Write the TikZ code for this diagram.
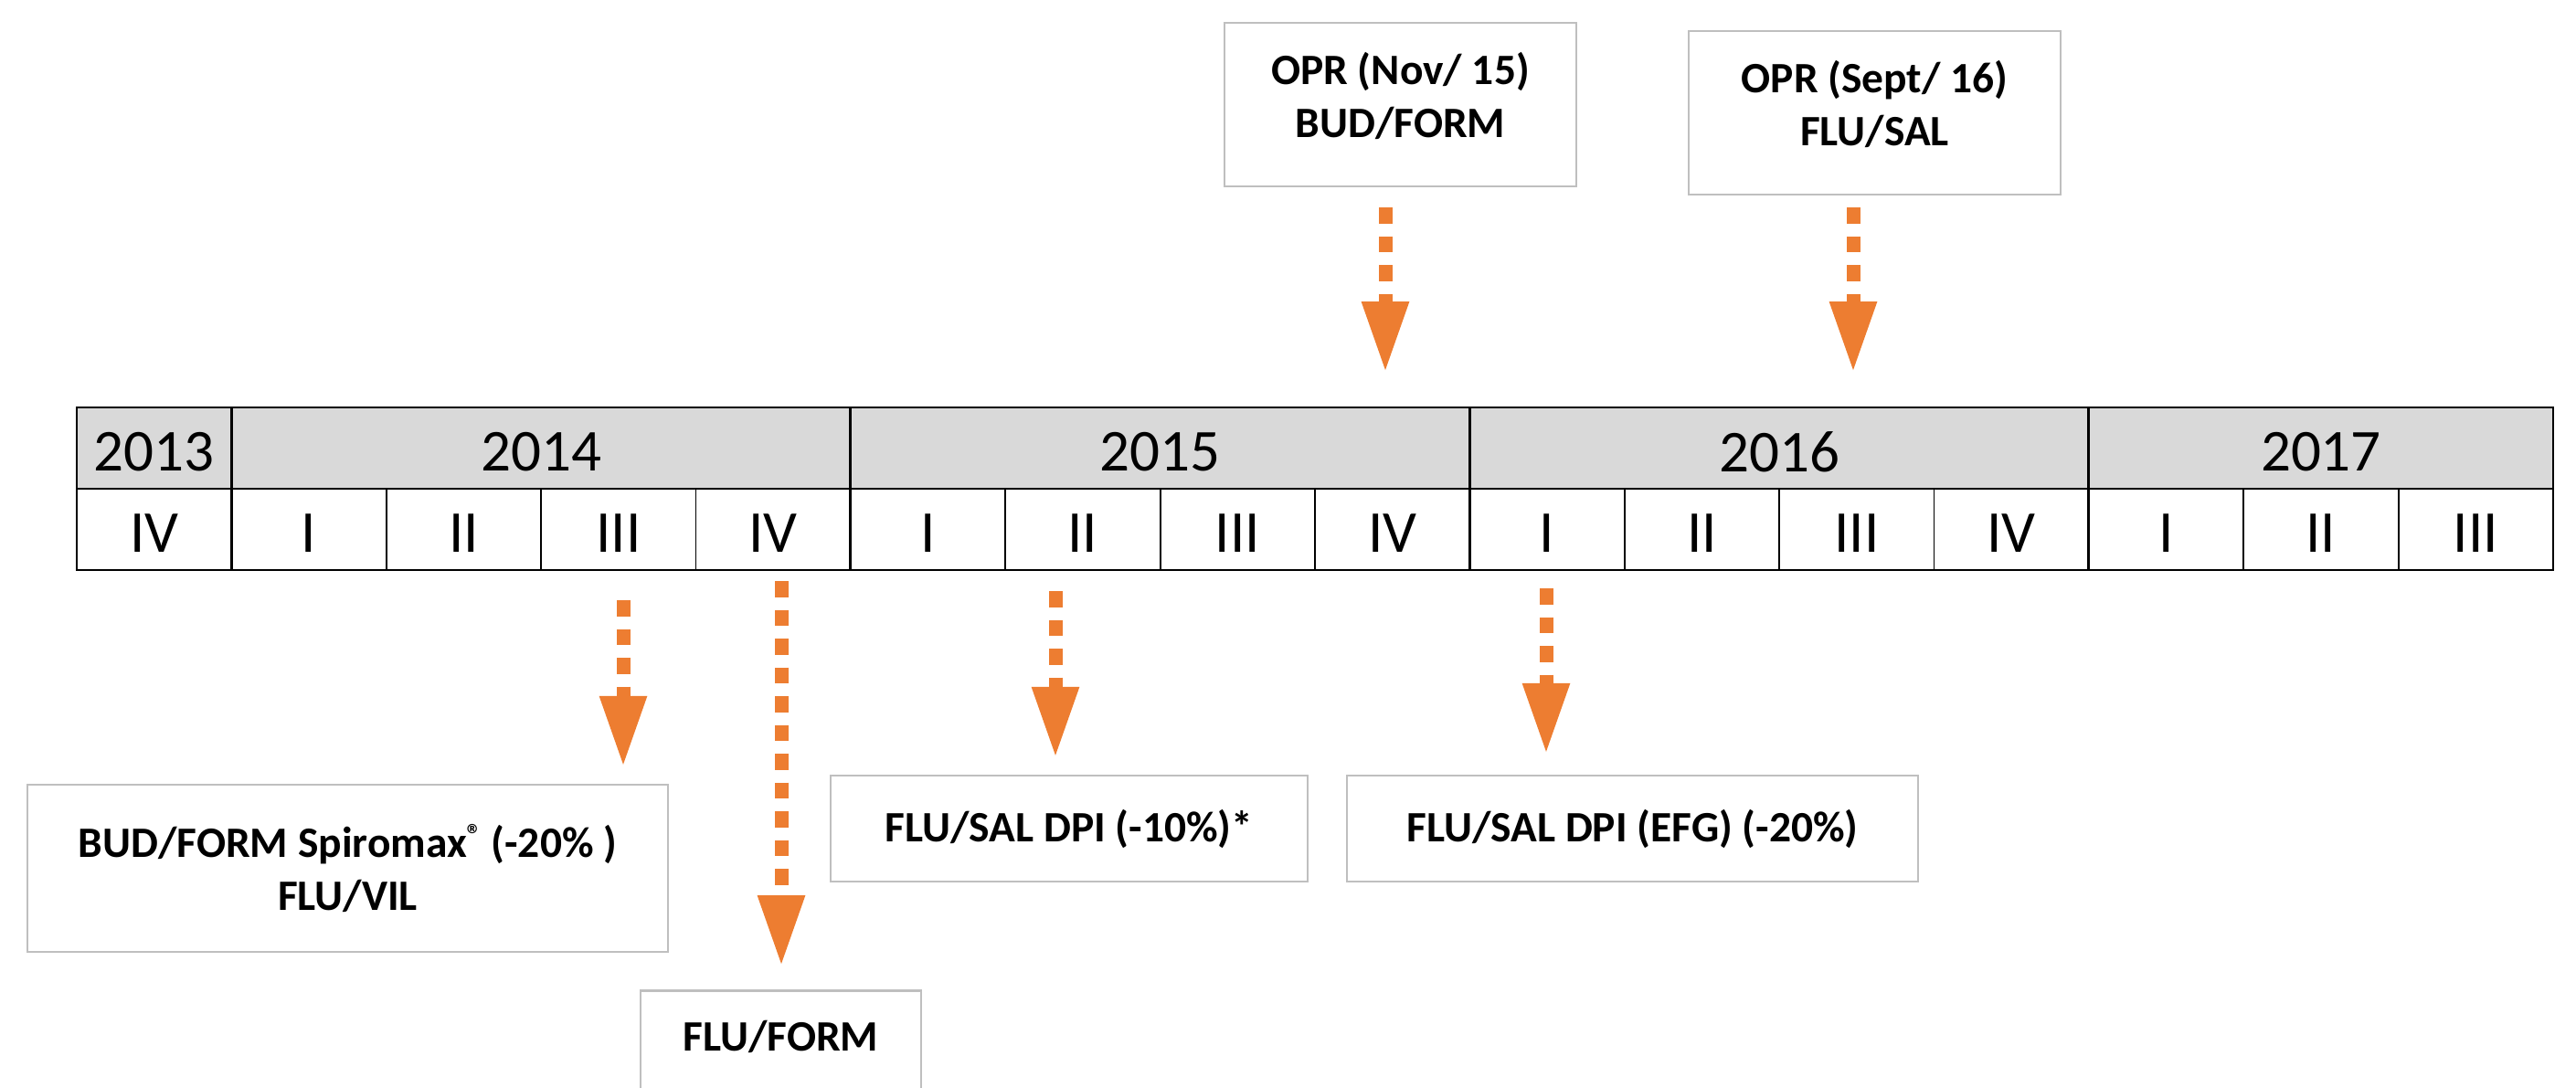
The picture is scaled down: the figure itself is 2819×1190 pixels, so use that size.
\documentclass[tikz,border=0pt]{standalone}
\usepackage{fontspec}
\setmainfont{Carlito}
\usepackage{tikz}
\usetikzlibrary{arrows.meta,positioning,calc}
\definecolor{hdrgray}{RGB}{217,217,217}
\definecolor{boxgray}{RGB}{191,191,191}
\definecolor{arrorange}{RGB}{237,125,49}

\begin{document}
\begin{tikzpicture}[x=0.1mm,y=-0.1mm,
    cell/.style={font=\fontsize{18.5}{22}\selectfont, inner sep=0pt},
    note/.style={draw=boxgray, line width=0.25mm, align=center, inner sep=0pt,
                 font=\fontsize{13.5}{16.5}\selectfont\bfseries},
    dotarrow/.style={draw=arrorange, line width=1.5mm, dash pattern=on 1.75mm off 1.4mm,
                 -{Triangle[width=4.8mm,length=7.8mm]}}]
    \useasboundingbox (0,0) rectangle (2819,1190);
    \clip (0,0) rectangle (2819,1190);
    % Year row (grey)
    \fill[hdrgray] (84,446) rectangle (2794,535);
    % Quarter separators (thin) and year separators (thick)
    \foreach \i in {2,3,4,6,7,8,10,11,12,14,15} {
        \draw[line width=0.18mm] ({84+\i*169.375},535) -- ({84+\i*169.375},624);
    }
    \foreach \i in {1,5,9,13} {
        \draw[line width=0.28mm] ({84+\i*169.375},446) -- ({84+\i*169.375},624);
    }
    \draw[line width=0.28mm] (84,535) -- (2794,535);
    \draw[line width=0.28mm] (84,446) rectangle (2794,624);
    % Years
    \node[cell] (y2013) at ({84+0.5*169.375},495) {2013};
    \node[cell] (y2014) at ({84+3*169.375},495) {2014};
    \node[cell] (y2015) at ({84+7*169.375},495) {2015};
    \node[cell] (y2016) at ({84+11*169.375},495) {2016};
    \node[cell] (y2017) at ({84+14.5*169.375},495) {2017};
    % Quarters
    \foreach \q [count=\i from 0] in {IV,I,II,III,IV,I,II,III,IV,I,II,III,IV,I,II,III} {
        \node[cell] (q\i) at ({84+(\i+0.5)*169.375},584) {\q};
    }
    % Boxes above the timeline
    \node[note, minimum width=38.5mm, minimum height=17.9mm, text depth=2.2mm] (opr1) at (1532.5,114.5) {OPR (Nov/ 15)\\BUD/FORM};
    \node[note, minimum width=40.7mm, minimum height=17.9mm, text depth=2.2mm] (opr2) at (2051.5,123.5) {OPR (Sept/ 16)\\FLU/SAL};
    % Boxes below the timeline
    \node[note, minimum width=70.1mm, minimum height=18.3mm] (bud) at (380.5,950.5) {BUD/FORM Spiromax\raisebox{0.3em}{\fontsize{9}{9}\selectfont ®} (-20\% )\\FLU/VIL};
    \node[note, minimum width=52.2mm, minimum height=11.6mm] (dpi1) at (1170,907) {FLU/SAL DPI (-10\%)*};
    \node[note, minimum width=62.5mm, minimum height=11.6mm] (dpi2) at (1786.5,907) {FLU/SAL DPI (EFG) (-20\%)};
    \node[note, anchor=north, minimum width=30.7mm, text height=9pt, text depth=15mm, inner ysep=3.5mm] (flform) at (854.5,1083) {FLU/FORM};
    % Dotted arrows
    \coordinate (e1) at (1516,408);
    \coordinate (e2) at (2028,408);
    \draw[dotarrow, shorten <=2.2mm] (opr1.south -| e1) -- (e1);
    \draw[dotarrow, shorten <=1.3mm] (opr2.south -| e2) -- (e2);
    \coordinate (sA) at (682,657);
    \coordinate (sB) at (855,636);
    \coordinate (sC) at (1155,647);
    \coordinate (sD) at (1692,644);
    \draw[dotarrow, shorten >=1.8mm] (sA) -- (sA |- bud.north);
    \draw[dotarrow, shorten >=2.5mm] (sB) -- (sB |- flform.north);
    \draw[dotarrow, shorten >=1.8mm] (sC) -- (sC |- dpi1.north);
    \draw[dotarrow, shorten >=2.2mm] (sD) -- (sD |- dpi2.north);
\end{tikzpicture}
\end{document}
